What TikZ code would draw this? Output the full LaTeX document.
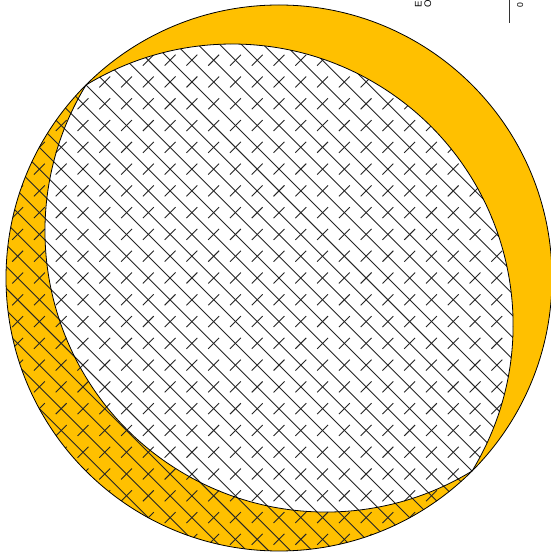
\documentclass[tikz,border=0pt]{standalone}
\usepackage{fontspec}
\setmainfont{Liberation Sans}
\definecolor{amber}{RGB}{255,192,0}
\tikzset{
  outline/.style={draw=black, line width=0.8pt},
  hatchline/.style={draw=black!85, line width=0.9pt},
  legendtext/.style={inner sep=0pt, rotate=90, anchor=base west, font=\fontsize{9.6}{11}\selectfont}
}
\newcommand\myhatch{%
  \foreach \k in {-19,...,19} {
    \draw[hatchline] (-290, {\k*15.4}) -- (290, {\k*15.4});
  }
  \foreach \i in {-19,...,19} {
    \foreach \j in {-20,...,20} {
      \draw[hatchline] ({\i*15.4}, {(2*\j+\i-0.5)*15.4}) -- ({\i*15.4}, {(2*\j+\i+0.5)*15.4});
    }
  }
}
\newcommand\lenspath{(273,0) arc[start angle=13.65, end angle=166.35, radius=280.9] arc[start angle=193.65, end angle=346.35, radius=280.9] -- cycle}
\begin{document}
\begin{tikzpicture}[x=1pt,y=1pt]
\useasboundingbox (0,0) rectangle (551,554);
\clip (0,0) rectangle (551,554);
% outer disk
\fill[amber] (279,276) circle[radius=273];
\begin{scope}[shift={(279,276)}, rotate=-45]
  \fill[white] \lenspath;
  \begin{scope}
    \clip (273,0) arc[start angle=13.65, end angle=166.35, radius=280.9] arc[start angle=180, end angle=360, radius=273] -- cycle;
    \myhatch
  \end{scope}
  \draw[outline] \lenspath;
\end{scope}
\draw[outline] (279,276) circle[radius=273];
% cut-off legend
\node[legendtext] (legE) at (421.5,546.3) {E};
\node[legendtext] (legO) at (431,546.3) {O};
\coordinate (axtop) at (509.5,554);
\coordinate (axbot) at (509.5,530.5);
\draw[draw=black!80, line width=0.9pt] (axtop) -- (axbot);
\node[legendtext, font=\fontsize{8.6}{10}\selectfont] (leg0) at (523,546.3) {0};
\end{tikzpicture}
\end{document}
